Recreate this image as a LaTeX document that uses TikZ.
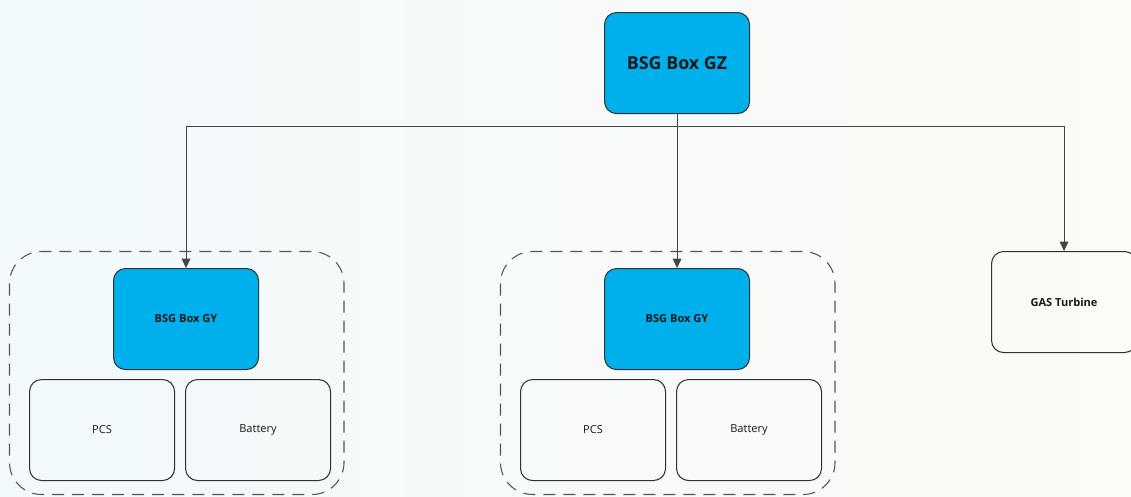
\documentclass[tikz,border=0pt]{standalone}
\usepackage{fontspec}
\setmainfont{Open Sans}
\usetikzlibrary{arrows.meta}
\definecolor{bgL}{HTML}{F1F9FC}
\definecolor{bgR}{HTML}{FCFBF5}
\definecolor{boxblue}{HTML}{00B0EC}
\definecolor{edge}{HTML}{333333}
\definecolor{wire}{HTML}{444444}
\definecolor{dashc}{HTML}{555555}
\tikzset{
  unit/.style={draw=edge, line width=0.8pt, rounded corners=9pt, minimum width=108.75pt, minimum height=75.75pt, inner sep=0pt, anchor=north west, text=black!90},
  bluebox/.style={unit, fill=boxblue},
  whitebox/.style={unit},
  small/.style={font=\fontsize{8.3pt}{10pt}\selectfont},
  smallbold/.style={font=\fontsize{8.3pt}{10pt}\selectfont\bfseries},
  grp/.style={draw=dashc, line width=0.8pt, dash pattern=on 9pt off 6pt, rounded corners=24pt},
  arr/.style={draw=wire, line width=0.75pt, -{Triangle[width=6.5pt,length=7pt]}}
}
\begin{document}
\begin{tikzpicture}[x=0.75pt,y=-0.75pt]
\useasboundingbox (0,0) rectangle (1131,496);
\clip (0,0) rectangle (1131,496);
\shade[left color=bgL, right color=bgR] (0,0) rectangle (1131,496);
% groups
\draw[grp] (9.5,251.5) rectangle (344,494.5);
\draw[grp] (500.5,251.5) rectangle (835,494.5);
% nodes
\node[bluebox, font=\fontsize{13.4pt}{16pt}\selectfont\bfseries] (gz) at (604,12) {BSG Box GZ};
\node[bluebox, smallbold] (gy1) at (113,268) {BSG Box GY};
\node[whitebox, small] (pcs1) at (29,379) {PCS};
\node[whitebox, small] (bat1) at (185,379) {Battery};
\node[bluebox, smallbold] (gy2) at (604,268) {BSG Box GY};
\node[whitebox, small] (pcs2) at (520,379) {PCS};
\node[whitebox, small] (bat2) at (676,379) {Battery};
\node[whitebox, smallbold] (gt) at (991,251) {GAS Turbine};
% connectors
\coordinate (bus) at (677,126);
\draw[arr] (gz.south) -- (gy2.north);
\draw[arr] (bus) -| (gy1.north);
\draw[arr] (bus) -| (gt.north);
\end{tikzpicture}
\end{document}
